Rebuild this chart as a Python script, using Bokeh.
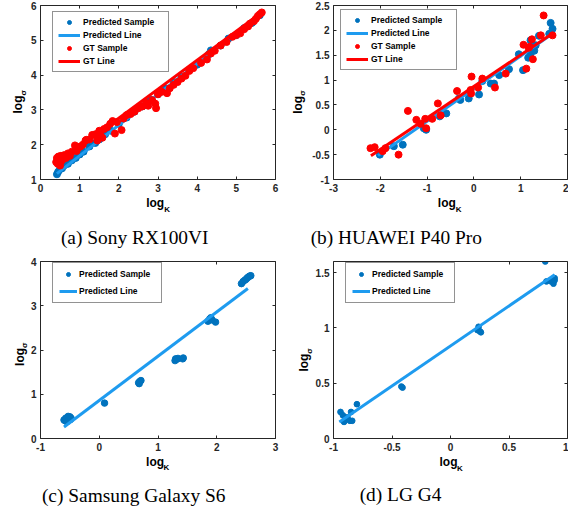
import math
from bokeh.plotting import figure
from bokeh.models import LinearAxis, FixedTicker, Label, Range1d
from bokeh.layouts import gridplot
from bokeh.embed import file_html
from bokeh.resources import INLINE

# ---------------- data ----------------
# (a) Sony RX100VI
a_pred_x = [0.42, 0.45, 0.50, 0.55, 0.60, 0.70, 0.80, 0.90, 1.00, 1.10, 1.25, 1.40, 1.50, 1.65, 1.80, 2.00, 2.20,
            2.40, 2.60, 2.80, 3.00, 3.20, 3.40, 3.60, 3.80, 4.00, 4.30, 4.35, 4.60, 4.80, 5.00, 5.20, 5.40, 5.60]
a_pred_y = [1.15, 1.22, 1.30, 1.32, 1.40, 1.45, 1.55, 1.62, 1.72, 1.80, 1.95, 2.05, 2.15, 2.30, 2.40, 2.60, 2.78,
            2.95, 3.10, 3.30, 3.45, 3.62, 3.80, 3.95, 4.15, 4.30, 4.60, 4.71, 4.85, 5.05, 5.15, 5.35, 5.50, 5.72]
a_pred_line_x = [0.42, 5.62]
a_pred_line_y = [1.17, 5.76]
a_gt_x = [0.40, 0.42, 0.44, 0.46, 0.48, 0.50, 0.52, 0.55, 0.60, 0.65, 0.70, 0.75, 0.80, 0.88, 0.92, 0.97, 1.02,
          1.08, 1.15, 1.17, 1.25, 1.32, 1.40, 1.45, 1.50, 1.53, 1.58, 1.62, 1.70, 1.78, 1.84, 1.90, 1.95, 2.07,
          2.12, 2.20, 2.30, 2.40, 2.50, 2.60, 2.70, 2.75, 2.85, 2.93, 2.95, 3.00, 3.10, 3.23, 3.30, 3.40, 3.50,
          3.60, 3.70, 3.80, 3.90, 4.10, 4.25, 4.35, 4.45, 4.60, 4.75, 4.90, 5.00, 5.10, 5.20, 5.30, 5.35, 5.45,
          5.50, 5.55, 5.60, 5.65]
a_gt_y = [1.50, 1.62, 1.45, 1.66, 1.58, 1.40, 1.68, 1.55, 1.70, 1.62, 1.75, 1.68, 1.80, 1.98, 1.82, 1.92, 1.95,
          2.00, 2.12, 2.14, 2.15, 2.28, 2.30, 2.12, 2.40, 2.27, 2.20, 2.45, 2.50, 2.60, 2.68, 2.32, 2.65, 2.42,
          2.75, 2.85, 2.88, 2.95, 3.05, 3.10, 3.20, 3.12, 3.28, 3.18, 3.05, 3.45, 3.52, 3.48, 3.62, 3.72, 3.80,
          3.90, 3.98, 4.12, 4.20, 4.35, 4.45, 4.62, 4.70, 4.85, 4.95, 5.10, 5.15, 5.20, 5.32, 5.40, 5.48, 5.55,
          5.62, 5.70, 5.75, 5.80]
a_gt_line_x = [0.42, 5.62]
a_gt_line_y = [1.45, 5.78]
a_xticks = [0, 1, 2, 3, 4, 5, 6]
a_xtick_labels = ["0", "1", "2", "3", "4", "5", "6"]
a_yticks = [1, 2, 3, 4, 5, 6]
a_ytick_labels = ["1", "2", "3", "4", "5", "6"]

# (b) HUAWEI P40 Pro
b_pred_x = [-2.01, -1.71, -1.52, -1.07, -1.02, -0.73, -0.59, -0.32, -0.29, -0.11, 0.11, 0.18, 0.36, 0.43, 0.54,
            0.75, 0.96, 1.05, 1.16, 1.21, 1.21, 1.29, 1.32, 1.39, 1.61, 1.64, 1.68]
b_pred_y = [-0.50, -0.33, -0.30, 0.03, 0.00, 0.27, 0.33, 0.63, 0.60, 0.63, 0.71, 0.98, 0.93, 0.93, 1.10,
            1.22, 1.52, 1.20, 1.45, 1.53, 1.80, 1.59, 1.70, 1.89, 1.93, 2.15, 2.03]
b_pred_line_x = [-2.05, 1.60]
b_pred_line_y = [-0.52, 1.88]
b_gt_x = [-2.21, -2.12, -1.95, -1.89, -1.61, -1.41, -1.23, -1.14, -1.04, -1.02, -0.89, -0.77, -0.71, -0.36,
          -0.07, -0.05, -0.06, 0.09, 0.18, 0.45, 0.68, 1.06, 1.12, 1.19, 1.24, 1.26, 1.43, 1.49, 1.68, 1.17]
b_gt_y = [-0.37, -0.35, -0.43, -0.37, -0.50, 0.38, 0.20, 0.12, 0.22, 0.03, 0.22, 0.53, 0.29, 0.78,
          0.80, 1.07, 0.73, 0.85, 1.03, 0.85, 1.13, 1.71, 1.23, 1.67, 1.82, 1.42, 1.90, 2.30, 1.90, 1.65]
b_gt_line_x = [-2.20, 1.67]
b_gt_line_y = [-0.52, 1.93]
b_xticks = [-3, -2, -1, 0, 1, 2]
b_xtick_labels = ["-3", "-2", "-1", "0", "1", "2"]
b_yticks = [-1, -0.5, 0, 0.5, 1, 1.5, 2, 2.5]
b_ytick_labels = ["-1", "-0.5", "0", "0.5", "1", "1.5", "2", "2.5"]

# (c) Samsung Galaxy S6
c_pred_x = [-0.60, -0.58, -0.57, -0.56, -0.55, -0.54, -0.53, -0.52, -0.50, -0.49, -0.48, 0.09, 0.67, 0.68,
            0.69, 0.71, 1.29, 1.30, 1.32, 1.34, 1.42, 1.43, 1.85, 1.88, 1.90, 1.92, 1.98, 2.42, 2.45, 2.48,
            2.50, 2.52, 2.54, 2.56, 2.58]
c_pred_y = [0.42, 0.40, 0.46, 0.44, 0.38, 0.48, 0.50, 0.44, 0.49, 0.43, 0.46, 0.80, 1.26, 1.24,
            1.29, 1.31, 1.76, 1.80, 1.79, 1.81, 1.80, 1.82, 2.65, 2.70, 2.73, 2.68, 2.63, 3.50, 3.55, 3.58,
            3.60, 3.63, 3.65, 3.67, 3.68]
c_pred_line_x = [-0.60, 2.53]
c_pred_line_y = [0.26, 3.39]
c_xticks = [-1, 0, 1, 2, 3]
c_xtick_labels = ["-1", "0", "1", "2", "3"]
c_yticks = [0, 1, 2, 3, 4]
c_ytick_labels = ["0", "1", "2", "3", "4"]

# (d) LG G4
d_pred_x = [-0.94, -0.92, -0.91, -0.90, -0.89, -0.88, -0.86, -0.85, -0.84, -0.80, -0.42, -0.41,
            0.23, 0.24, 0.25, 0.26, 0.81, 0.82, 0.86, 0.88, 0.89, 0.89]
d_pred_y = [0.24, 0.21, 0.15, 0.17, 0.19, 0.19, 0.16, 0.24, 0.16, 0.31, 0.47, 0.46,
            0.98, 1.01, 0.97, 0.96, 1.60, 1.42, 1.42, 1.40, 1.43, 1.45]
d_pred_line_x = [-0.95, 0.89]
d_pred_line_y = [0.15, 1.48]
d_xticks = [-1, -0.5, 0, 0.5, 1]
d_xtick_labels = ["-1", "-0.5", "0", "0.5", "1"]
d_yticks = [0, 0.5, 1, 1.5]
d_ytick_labels = ["0", "0.5", "1", "1.5"]

captions = ["(a) Sony RX100VI", "(b) HUAWEI P40 Pro", "(c) Samsung Galaxy S6", "(d) LG G4"]

# ---------------- styling / layout ----------------
BLUE_PT = "#0072bd"
BLUE_LN = "#1e9bef"
RED = "#ff0000"
AX = "#262626"
SANS = "Liberation Sans"
SERIF = "Liberation Serif"
FW = 284
ROW_H = [254, 255]
ROW_Y0 = [0, 254]
BASELINE_FIX = 0.36  # empirical shift of the rendered text baseline, in em


def make_fig(col, row, fr, xr, yr, xt, xtl, yt, ytl):
    l, t, r, b = fr
    x0 = col * FW
    y0 = ROW_Y0[row]
    fh_total = ROW_H[row]
    left = l - x0
    right = max(1, x0 + FW - r)
    top = t - y0
    bottom = fh_total - (b - y0)
    p = figure(width=FW, height=fh_total, output_backend="svg", toolbar_location=None, title=None,
               x_range=Range1d(xr[0], xr[1]), y_range=Range1d(yr[0], yr[1]),
               min_border_left=left, min_border_right=right, min_border_top=top,
               min_border_bottom=bottom)
    p.xgrid.visible = False
    p.ygrid.visible = False
    p.outline_line_color = None
    p.background_fill_color = "white"
    p.border_fill_color = "white"
    p.xaxis.ticker = FixedTicker(ticks=xt)
    p.yaxis.ticker = FixedTicker(ticks=yt)
    p.xaxis.major_label_overrides = {float(v): s for v, s in zip(xt, xtl)}
    p.yaxis.major_label_overrides = {float(v): s for v, s in zip(yt, ytl)}
    for ax in (p.xaxis[0], p.yaxis[0]):
        ax.axis_line_color = AX
        ax.major_tick_line_color = AX
        ax.major_tick_in = 3
        ax.major_tick_out = 0
        ax.minor_tick_in = 0
        ax.minor_tick_out = 0
        ax.major_label_text_font = SANS
        ax.major_label_text_font_style = "bold"
        ax.major_label_text_font_size = "10px"
        ax.major_label_text_color = AX
        ax.major_label_standoff = 4
    top_ax = LinearAxis(ticker=FixedTicker(ticks=xt), major_label_standoff=0,
                        major_label_overrides={float(v): "" for v in xt},
                        major_tick_in=3, major_tick_out=0,
                        minor_tick_in=0, minor_tick_out=0, axis_line_color=AX,
                        major_tick_line_color=AX)
    right_ax = LinearAxis(ticker=FixedTicker(ticks=yt), major_label_standoff=0,
                          major_label_overrides={float(v): "" for v in yt},
                          major_tick_in=3, major_tick_out=0,
                          minor_tick_in=0, minor_tick_out=0, axis_line_color=AX,
                          major_tick_line_color=AX)
    p.add_layout(top_ax, "above")
    p.add_layout(right_ax, "right")
    geom = dict(l=l, t=t, r=r, b=b, xr=xr, yr=yr)
    return p, geom


def to_data(g, px, py):
    # page pixel position -> data coordinates of this panel (for text placement only)
    x0, x1 = g["xr"]
    y0, y1 = g["yr"]
    dx = x0 + (px - g["l"]) * (x1 - x0) / (g["r"] - g["l"])
    dy = y0 + (g["b"] - py) * (y1 - y0) / (g["b"] - g["t"])
    return dx, dy


def txt(g, px, py, text, size, angle=0.0, align="left", font=SANS, style="bold"):
    fs = float(size.replace("px", ""))
    if angle == 0.0:
        py -= BASELINE_FIX * fs
    else:
        px -= BASELINE_FIX * fs
    x, y = to_data(g, px, py)
    return Label(x=x, y=y, text=text, angle=angle,
                 text_font=font, text_font_style=style, text_font_size=size,
                 text_color="black", text_align=align, text_baseline="alphabetic")


def add_labels(p, g, xl, yl, cap, cap_xy):
    # x label "log" + subscript "K": xl = (start x, baseline y)
    p.add_layout(txt(g, xl[0], xl[1], "log", "12px"), "below")
    p.add_layout(txt(g, xl[0] + 18, xl[1] + 5, "K", "8px"), "below")
    p.add_layout(txt(g, cap_xy[0], cap_xy[1], cap, "19.4px", align="center", font=SERIF, style="normal"), "below")
    # y label rotated: yl = (baseline x, start y)
    p.add_layout(txt(g, yl[0] + 3.5, yl[1] - 18, "σ", "8px", angle=math.pi / 2), "below")
    p.add_layout(txt(g, yl[0], yl[1], "log", "12px", angle=math.pi / 2), "left")


def style_legend(p, g, box_ref, n, pad, item_h, spacing, glyph_w, label_w, standoff):
    leg = p.legend[0]
    leg.label_text_font = SANS
    leg.label_text_font_style = "bold"
    leg.label_text_font_size = "8.5px"
    leg.label_text_color = "black"
    leg.label_height = item_h
    leg.glyph_height = item_h
    leg.glyph_width = glyph_w
    leg.label_width = label_w
    leg.label_standoff = standoff
    leg.spacing = spacing
    leg.padding = pad
    leg.margin = 0
    leg.border_line_color = AX
    leg.border_line_width = 1
    leg.background_fill_color = "white"
    leg.background_fill_alpha = 1
    h = 2 * pad + n * item_h + (n - 1) * spacing
    bx = box_ref[0] - g["l"]
    by = g["b"] - box_ref[1]
    leg.location = (bx, by - h)


figs = []

# (a)
p, g = make_fig(0, 0, (40, 5, 275, 179), (0, 6), (1, 6), a_xticks, a_xtick_labels, a_yticks, a_ytick_labels)
p.scatter(a_pred_x, a_pred_y, size=7, color=BLUE_PT, legend_label="Predicted Sample")
p.line(a_pred_line_x, a_pred_line_y, line_width=3, color=BLUE_LN, legend_label="Predicted Line")
p.scatter(a_gt_x, a_gt_y, size=7, color=RED, legend_label="GT Sample")
p.line(a_gt_line_x, a_gt_line_y, line_width=3, color=RED, legend_label="GT Line")
style_legend(p, g, (52, 13), 4, 5, 10, 3, 22, 80, 3)
add_labels(p, g, (145.7, 206.7), (22, 113), captions[0], (134.2, 244.3))
figs.append(p)

# (b)
p, g = make_fig(1, 0, (333, 5, 567, 179), (-3, 2), (-1, 2.5), b_xticks, b_xtick_labels, b_yticks, b_ytick_labels)
p.scatter(b_pred_x, b_pred_y, size=7, color=BLUE_PT, legend_label="Predicted Sample")
p.line(b_pred_line_x, b_pred_line_y, line_width=3, color=BLUE_LN, legend_label="Predicted Line")
p.scatter(b_gt_x, b_gt_y, size=7, color=RED, legend_label="GT Sample")
p.line(b_gt_line_x, b_gt_line_y, line_width=3, color=RED, legend_label="GT Line")
style_legend(p, g, (340, 11), 4, 5, 10, 3, 22, 80, 3)
add_labels(p, g, (437.3, 207.3), (301.6, 113.3), captions[1], (395.8, 244.3))
figs.append(p)

# (c)
p, g = make_fig(0, 1, (34, 260, 276, 438), (-1, 3), (0, 4), c_xticks, c_xtick_labels, c_yticks, c_ytick_labels)
p.scatter(c_pred_x, c_pred_y, size=6.5, color=BLUE_PT, legend_label="Predicted Sample")
p.line(c_pred_line_x, c_pred_line_y, line_width=3, color=BLUE_LN, legend_label="Predicted Line")
style_legend(p, g, (46, 264), 2, 6, 10, 7, 18, 76, 2)
add_labels(p, g, (142.7, 465.5), (17, 365), captions[2], (130, 502.3))
figs.append(p)

# (d)
p, g = make_fig(1, 1, (327, 261, 567, 439), (-1, 1), (0, 1.6), d_xticks, d_xtick_labels, d_yticks, d_ytick_labels)
p.scatter(d_pred_x, d_pred_y, size=5.7, color=BLUE_PT, legend_label="Predicted Sample")
p.line(d_pred_line_x, d_pred_line_y, line_width=3, color=BLUE_LN, legend_label="Predicted Line")
style_legend(p, g, (339, 265), 2, 6, 10, 7, 18, 76, 2)
add_labels(p, g, (435.7, 466.7), (301.3, 371.7), captions[3], (395.8, 502.3))
figs.append(p)

layout = gridplot([[figs[0], figs[1]], [figs[2], figs[3]]], toolbar_location=None)

open("out.html", "w").write(file_html(layout, INLINE))
